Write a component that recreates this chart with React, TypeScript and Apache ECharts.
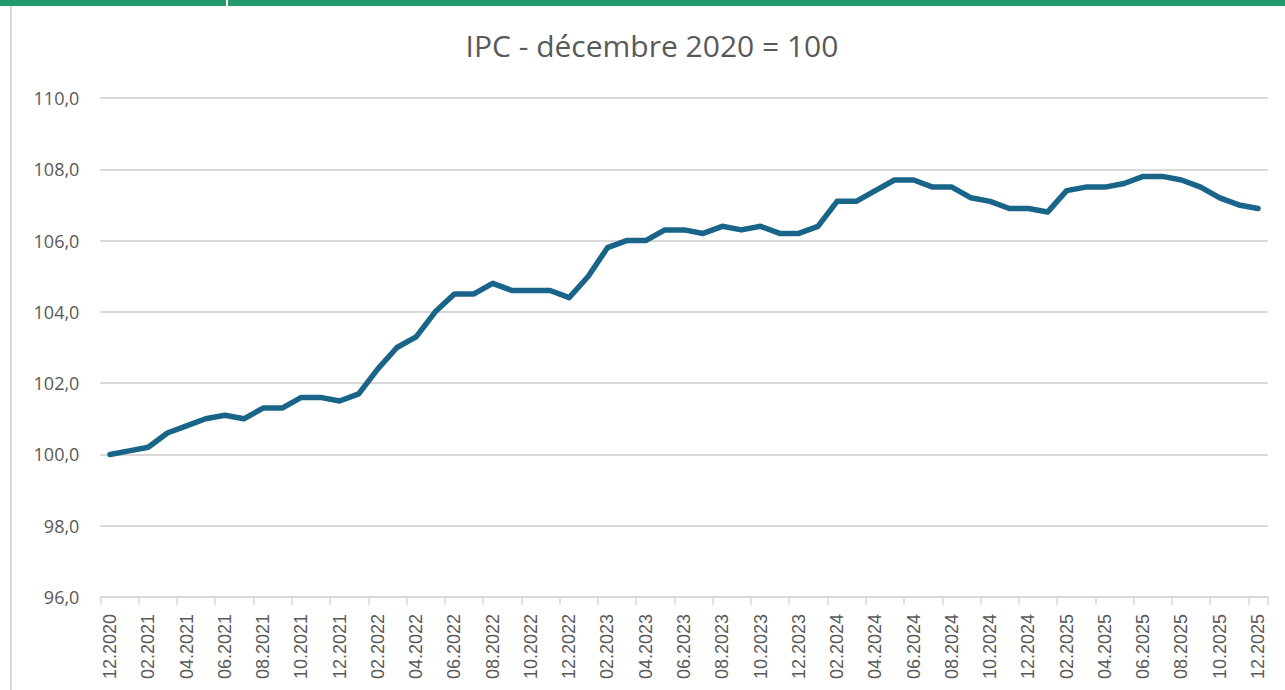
import React, { useEffect, useRef } from "react";
import * as echarts from "echarts";

const months: string[] = [
  "12.2020",
  "01.2021", "02.2021", "03.2021", "04.2021", "05.2021", "06.2021", "07.2021", "08.2021", "09.2021", "10.2021", "11.2021", "12.2021",
  "01.2022", "02.2022", "03.2022", "04.2022", "05.2022", "06.2022", "07.2022", "08.2022", "09.2022", "10.2022", "11.2022", "12.2022",
  "01.2023", "02.2023", "03.2023", "04.2023", "05.2023", "06.2023", "07.2023", "08.2023", "09.2023", "10.2023", "11.2023", "12.2023",
  "01.2024", "02.2024", "03.2024", "04.2024", "05.2024", "06.2024", "07.2024", "08.2024", "09.2024", "10.2024", "11.2024", "12.2024",
  "01.2025", "02.2025", "03.2025", "04.2025", "05.2025", "06.2025", "07.2025", "08.2025", "09.2025", "10.2025", "11.2025", "12.2025",
];

const ipc: number[] = [
  100.0,
  100.1, 100.2, 100.6, 100.8, 101.0, 101.1, 101.0, 101.3, 101.3, 101.6, 101.6, 101.5,
  101.7, 102.4, 103.0, 103.3, 104.0, 104.5, 104.5, 104.8, 104.6, 104.6, 104.6, 104.4,
  105.0, 105.8, 106.0, 106.0, 106.3, 106.3, 106.2, 106.4, 106.3, 106.4, 106.2, 106.2,
  106.4, 107.1, 107.1, 107.4, 107.7, 107.7, 107.5, 107.5, 107.2, 107.1, 106.9, 106.9,
  106.8, 107.4, 107.5, 107.5, 107.6, 107.8, 107.8, 107.7, 107.5, 107.2, 107.0, 106.9,
];

const titleText = "IPC - décembre 2020 = 100";
const yMin = 96;
const yMax = 110;
const yStep = 2;

export default function App() {
  const ref = useRef<HTMLDivElement>(null);

  useEffect(() => {
    if (!ref.current) return;
    const chart = echarts.init(ref.current, null, { renderer: "svg" });
    chart.setOption({
      animation: false,
      backgroundColor: "#ffffff",
      grid: { left: 100.4, right: 17.4, top: 98, bottom: 93, containLabel: false },
      graphic: [
        { type: "rect", left: 0, top: 0, shape: { width: 1285, height: 6 }, style: { fill: "#22996a" } },
        { type: "rect", left: 226, top: 0, shape: { width: 2, height: 6 }, style: { fill: "#ffffff" } },
        { type: "rect", left: 10, top: 6, shape: { width: 2, height: 684 }, style: { fill: "#d9d9d9" } },
        {
          type: "text",
          x: 652,
          y: 45,
          style: {
            text: titleText,
            fill: "#595959",
            font: '30px "Open Sans", sans-serif',
            textAlign: "center",
            textVerticalAlign: "middle",
          },
        },
      ],
      xAxis: {
        type: "category",
        data: months,
        boundaryGap: true,
        axisLine: { show: true, lineStyle: { color: "#d9d9d9", width: 2 } },
        axisTick: { show: true, interval: 1, length: 8, lineStyle: { color: "#d9d9d9", width: 1.5 } },
        axisLabel: {
          interval: 1,
          rotate: 90,
          margin: 17,
          color: "#595959",
          fontSize: 18,
          fontFamily: '"Liberation Sans", Arial, sans-serif',
        },
        splitLine: { show: false },
      },
      yAxis: {
        type: "value",
        min: yMin,
        max: yMax,
        interval: yStep,
        axisLine: { show: false },
        axisTick: { show: false },
        axisLabel: {
          margin: 21,
          color: "#595959",
          fontSize: 18,
          fontFamily: '"Open Sans", sans-serif',
          formatter: (v: number) => v.toFixed(1).replace(".", ","),
        },
        splitLine: { show: true, lineStyle: { color: "#d9d9d9", width: 2 } },
      },
      series: [
        {
          type: "line",
          data: ipc,
          showSymbol: false,
          symbol: "none",
          lineStyle: { color: "#19658a", width: 5.5, cap: "round", join: "round" },
        },
      ],
    });
    return () => chart.dispose();
  }, []);

  return (
    <div
      ref={ref}
      style={{ position: "fixed", left: 0, top: 0, width: 1285, height: 690, background: "#ffffff" }}
    />
  );
}
